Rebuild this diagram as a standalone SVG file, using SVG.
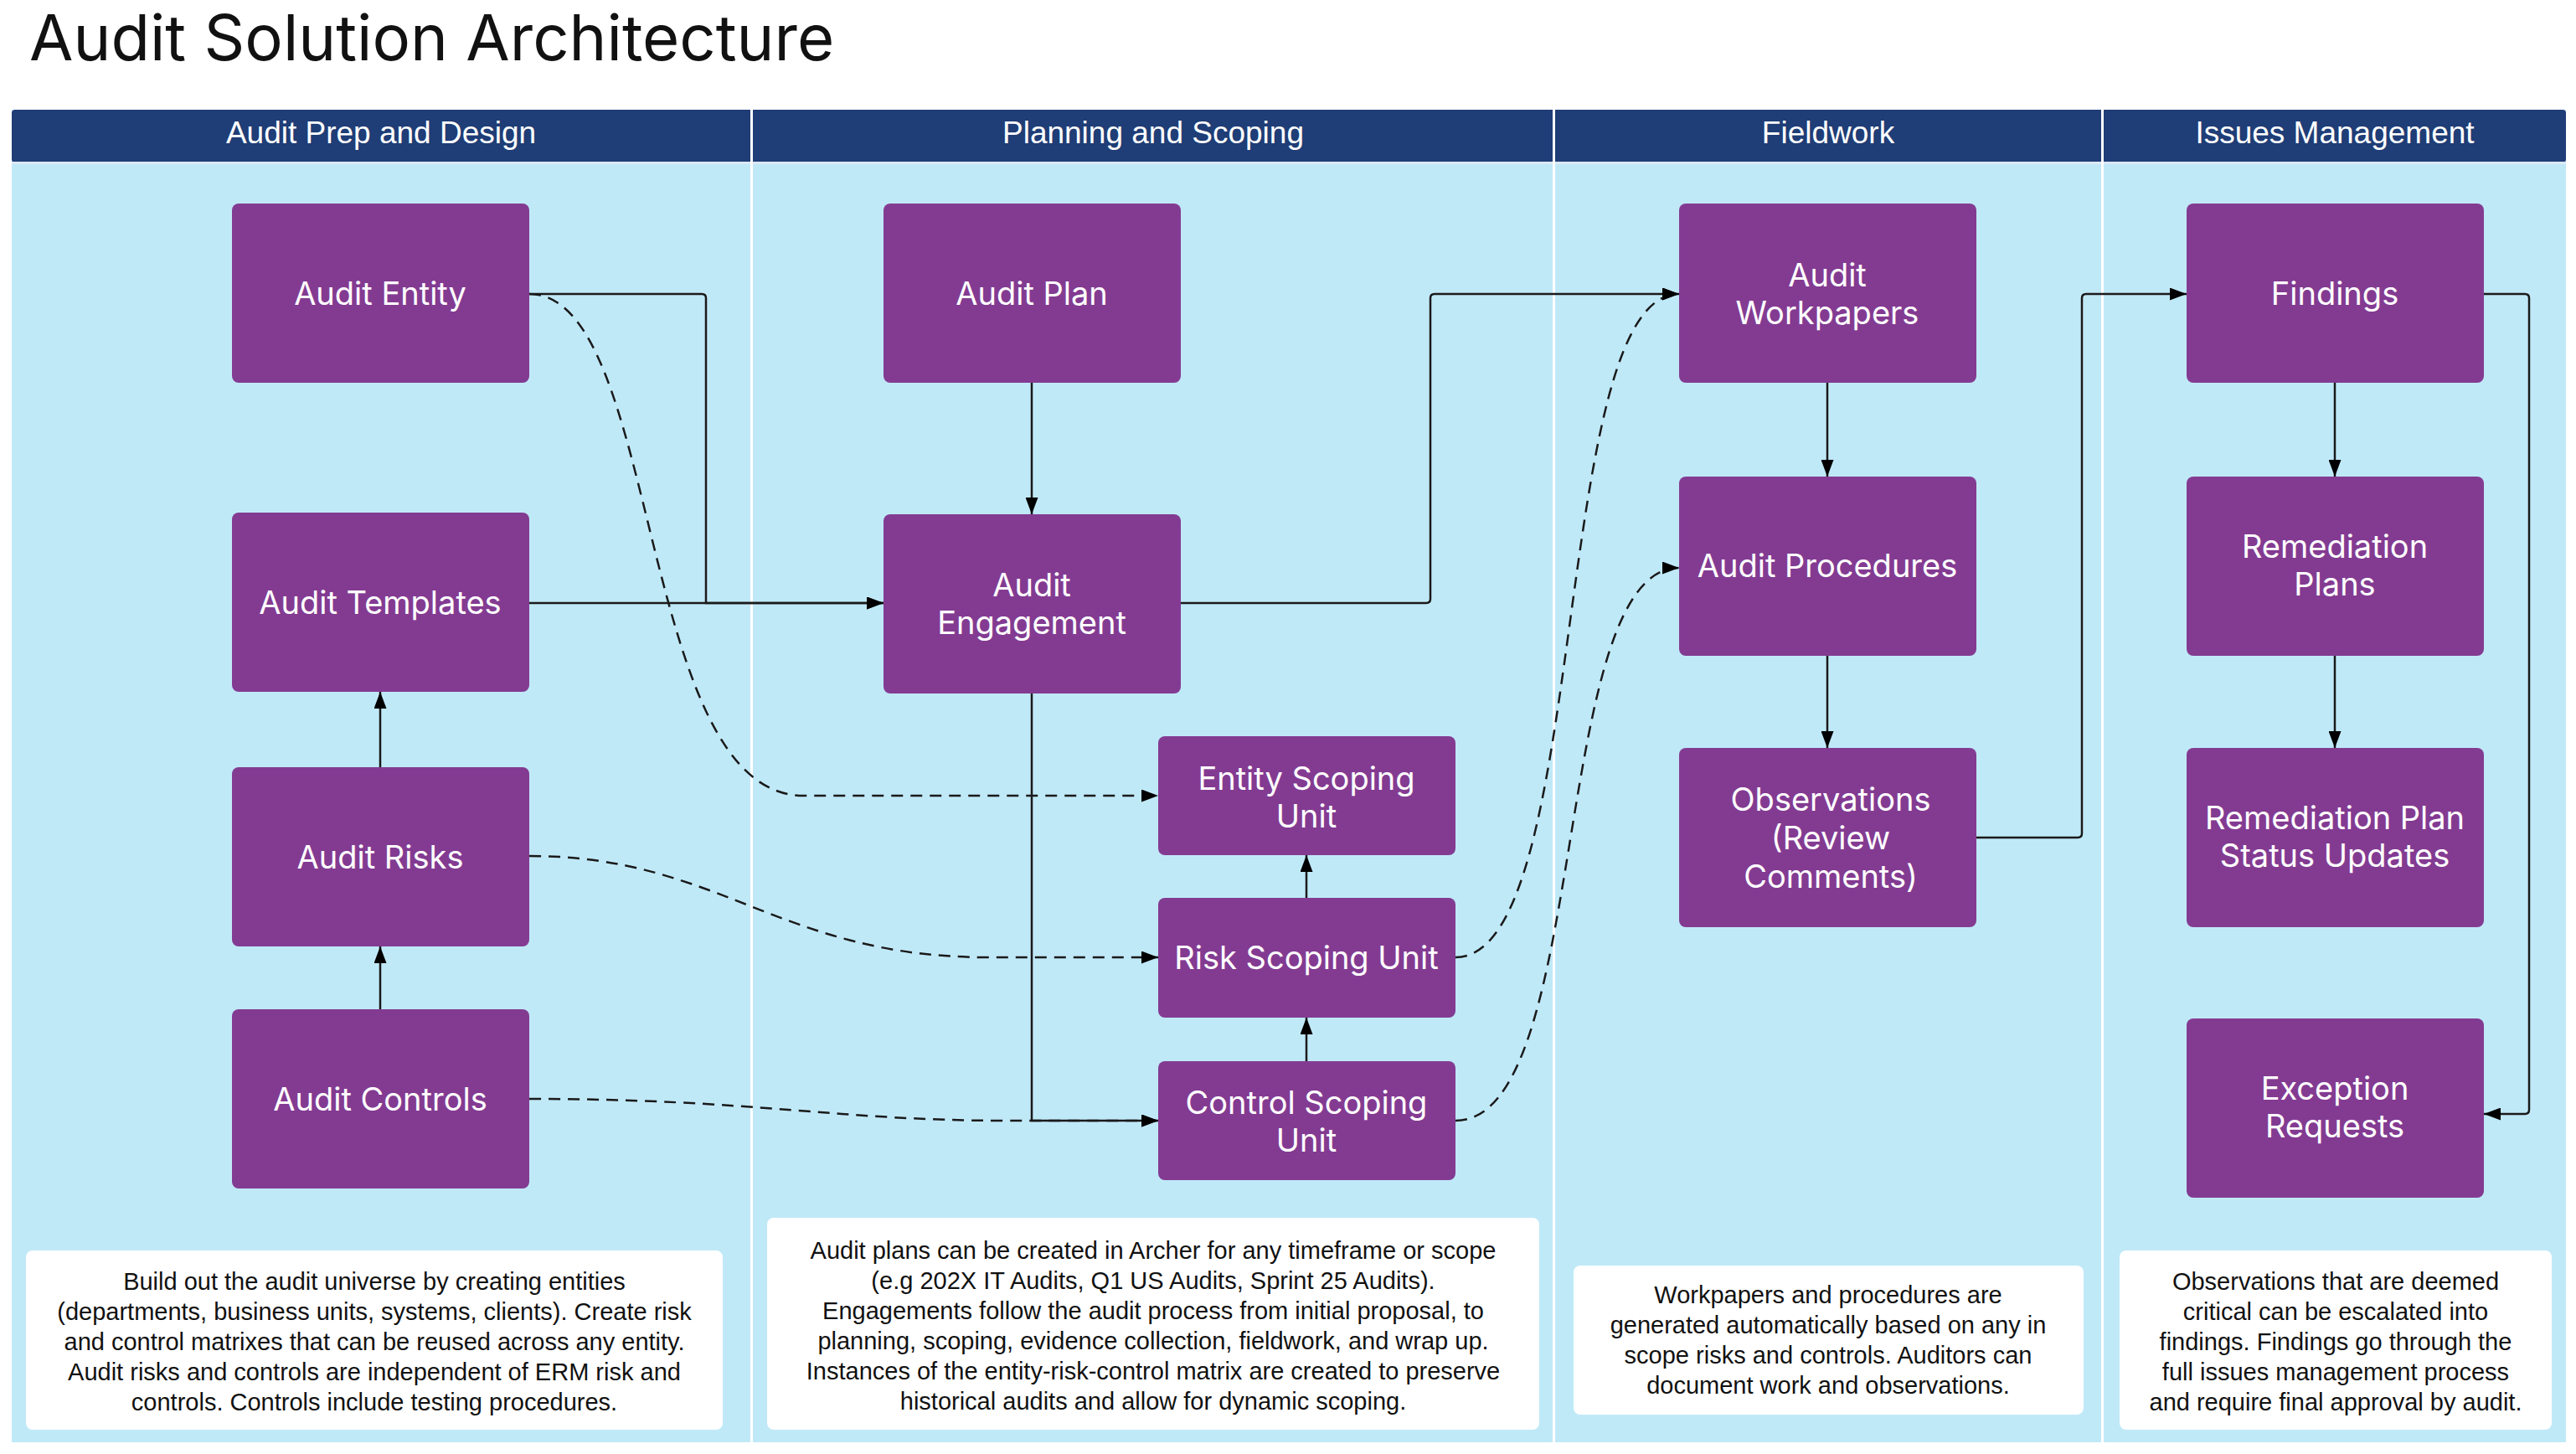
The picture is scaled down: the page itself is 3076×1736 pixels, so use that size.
<svg xmlns="http://www.w3.org/2000/svg" width="3076" height="1736" viewBox="0 0 3076 1736">
<style>
.lane{fill:#c0e9f8}
.hdr{fill:#1f3d76}
.ht{font-family:"Liberation Sans",Arial,sans-serif;font-size:37px;fill:#fff;text-anchor:middle}
.node rect{fill:#833b92;rx:8}
.nt{font-family:Inter,"Noto Sans",sans-serif;font-size:38px;fill:#fff;text-anchor:middle}
.note rect{fill:#fff}
.dt{font-family:"Liberation Sans",Arial,sans-serif;font-size:29px;fill:#111;text-anchor:middle}
.c{fill:none;stroke:#1a1a1a;stroke-width:2.5;marker-end:url(#ah)}
.d{stroke-dasharray:14 9}
</style>
<defs>
<marker id="ah" viewBox="0 0 10 10" refX="10" refY="5" markerWidth="20" markerHeight="15" markerUnits="userSpaceOnUse" orient="auto" preserveAspectRatio="none">
<path d="M0,0 L10,5 L0,10 z" fill="#000"/>
</marker>
</defs>
<rect width="3076" height="1736" fill="#fff"/>
<text x="35" y="72" font-family="Inter,'Noto Sans',sans-serif" font-size="76" fill="#111">Audit Solution Architecture</text>
<g id="lanes">
<rect class="lane" x="14" y="131" width="3050" height="1591"/>
<rect class="hdr" x="14" y="131" width="3050" height="63" rx="4"/>
<rect x="14" y="193" width="3050" height="3" fill="#dbe8f5"/>
<g fill="#fff"><rect x="896" y="131" width="3" height="1591"/><rect x="1854" y="131" width="3" height="1591"/><rect x="2509" y="131" width="3" height="1591"/></g>
<text class="ht" x="455" y="171">Audit Prep and Design</text>
<text class="ht" x="1377" y="171">Planning and Scoping</text>
<text class="ht" x="2183" y="171">Fieldwork</text>
<text class="ht" x="2788" y="171">Issues Management</text>
</g>
<g id="connectors">
<path class="c" d="M632,351 H838 Q843,351 843,356 V720 H1055"/>
<path class="c" d="M632,720 H1055"/>
<path class="c d" d="M632,351 C790,351 760,950 960,950 L1383,950"/>
<path class="c d" d="M632,1022 C860,1022 930,1143 1180,1143 L1383,1143"/>
<path class="c d" d="M632,1312 C900,1312 1000,1338 1200,1338 L1383,1338"/>
<path class="c" d="M1232,457 V614"/>
<path class="c" d="M1232,828 V1338 H1383"/>
<path class="c" d="M1560,1267 V1215"/>
<path class="c" d="M1560,1072 V1021"/>
<path class="c" d="M1410,720 H1703 Q1708,720 1708,715 V356 Q1708,351 1713,351 H2005"/>
<path class="c d" d="M1738,1143 C1900,1143 1850,351 2005,351"/>
<path class="c d" d="M1738,1338 C1900,1338 1850,678 2005,678"/>
<path class="c" d="M2182,457 V569"/>
<path class="c" d="M2182,783 V893"/>
<path class="c" d="M2360,1000 H2481 Q2486,1000 2486,995 V356 Q2486,351 2491,351 H2611"/>
<path class="c" d="M2788,457 V569"/>
<path class="c" d="M2788,783 V893"/>
<path class="c" d="M2966,351 H3015 Q3020,351 3020,356 V1325 Q3020,1330 3015,1330 H2966"/>
<path class="c" d="M454,916 V826"/>
<path class="c" d="M454,1205 V1130"/>
</g>
<g id="audit-entity" class="node"><rect x="277" y="243" width="355" height="214"/><text class="nt" x="454" y="364">Audit Entity</text></g>
<g id="audit-templates" class="node"><rect x="277" y="612" width="355" height="214"/><text class="nt" x="454" y="733">Audit Templates</text></g>
<g id="audit-risks" class="node"><rect x="277" y="916" width="355" height="214"/><text class="nt" x="454" y="1037">Audit Risks</text></g>
<g id="audit-controls" class="node"><rect x="277" y="1205" width="355" height="214"/><text class="nt" x="454" y="1326">Audit Controls</text></g>
<g id="audit-plan" class="node"><rect x="1055" y="243" width="355" height="214"/><text class="nt" x="1232" y="364">Audit Plan</text></g>
<g id="audit-engagement" class="node"><rect x="1055" y="614" width="355" height="214"/><text class="nt" x="1232" y="712">Audit</text><text class="nt" x="1232" y="757">Engagement</text></g>
<g id="entity-scoping" class="node"><rect x="1383" y="879" width="355" height="142"/><text class="nt" x="1560" y="943">Entity Scoping</text><text class="nt" x="1560" y="988">Unit</text></g>
<g id="risk-scoping" class="node"><rect x="1383" y="1072" width="355" height="143"/><text class="nt" x="1560" y="1157">Risk Scoping Unit</text></g>
<g id="control-scoping" class="node"><rect x="1383" y="1267" width="355" height="142"/><text class="nt" x="1560" y="1330">Control Scoping</text><text class="nt" x="1560" y="1375">Unit</text></g>
<g id="audit-workpapers" class="node"><rect x="2005" y="243" width="355" height="214"/><text class="nt" x="2182" y="342">Audit</text><text class="nt" x="2182" y="387">Workpapers</text></g>
<g id="audit-procedures" class="node"><rect x="2005" y="569" width="355" height="214"/><text class="nt" x="2182" y="689">Audit Procedures</text></g>
<g id="observations" class="node"><rect x="2005" y="893" width="355" height="214"/><text class="nt" x="2186" y="968">Observations</text><text class="nt" x="2186" y="1014">(Review</text><text class="nt" x="2186" y="1060">Comments)</text></g>
<g id="findings" class="node"><rect x="2611" y="243" width="355" height="214"/><text class="nt" x="2788" y="364">Findings</text></g>
<g id="remediation-plans" class="node"><rect x="2611" y="569" width="355" height="214"/><text class="nt" x="2788" y="666">Remediation</text><text class="nt" x="2788" y="711">Plans</text></g>
<g id="remediation-status" class="node"><rect x="2611" y="893" width="355" height="214"/><text class="nt" x="2788" y="990">Remediation Plan</text><text class="nt" x="2788" y="1035">Status Updates</text></g>
<g id="exception-requests" class="node"><rect x="2611" y="1216" width="355" height="214"/><text class="nt" x="2788" y="1313">Exception</text><text class="nt" x="2788" y="1358">Requests</text></g>
<g id="note-prep" class="note"><rect x="31" y="1493" width="832" height="214" rx="8"/>
<text class="dt" x="447" y="1540">Build out the audit universe by creating entities</text>
<text class="dt" x="447" y="1576">(departments, business units, systems, clients). Create risk</text>
<text class="dt" x="447" y="1612">and control matrixes that can be reused across any entity.</text>
<text class="dt" x="447" y="1648">Audit risks and controls are independent of ERM risk and</text>
<text class="dt" x="447" y="1684">controls. Controls include testing procedures.</text></g>
<g id="note-plan" class="note"><rect x="916" y="1454" width="922" height="253" rx="8"/>
<text class="dt" x="1377" y="1503">Audit plans can be created in Archer for any timeframe or scope</text>
<text class="dt" x="1377" y="1539">(e.g 202X IT Audits, Q1 US Audits, Sprint 25 Audits).</text>
<text class="dt" x="1377" y="1575">Engagements follow the audit process from initial proposal, to</text>
<text class="dt" x="1377" y="1611">planning, scoping, evidence collection, fieldwork, and wrap up.</text>
<text class="dt" x="1377" y="1647">Instances of the entity-risk-control matrix are created to preserve</text>
<text class="dt" x="1377" y="1683">historical audits and allow for dynamic scoping.</text></g>
<g id="note-field" class="note"><rect x="1879" y="1511" width="609" height="178" rx="8"/>
<text class="dt" x="2183" y="1556">Workpapers and procedures are</text>
<text class="dt" x="2183" y="1592">generated automatically based on any in</text>
<text class="dt" x="2183" y="1628">scope risks and controls. Auditors can</text>
<text class="dt" x="2183" y="1664">document work and observations.</text></g>
<g id="note-issues" class="note"><rect x="2531" y="1493" width="516" height="214" rx="8"/>
<text class="dt" x="2789" y="1540">Observations that are deemed</text>
<text class="dt" x="2789" y="1576">critical can be escalated into</text>
<text class="dt" x="2789" y="1612">findings. Findings go through the</text>
<text class="dt" x="2789" y="1648">full issues management process</text>
<text class="dt" x="2789" y="1684">and require final approval by audit.</text></g>
</svg>
